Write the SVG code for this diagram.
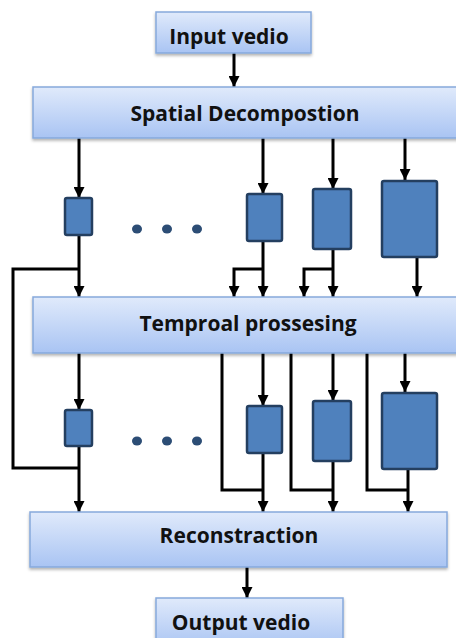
<svg xmlns="http://www.w3.org/2000/svg" width="456" height="638" viewBox="0 0 456 638">
<defs>
<linearGradient id="g" x1="0" y1="0" x2="0" y2="1">
<stop offset="0" stop-color="#e0eafb"/>
<stop offset="1" stop-color="#a9c4f3"/>
</linearGradient>
<filter id="sh" x="-10%" y="-20%" width="120%" height="150%">
<feDropShadow dx="0" dy="2" stdDeviation="1.5" flood-color="#000" flood-opacity="0.3"/>
</filter>
<marker id="ah" viewBox="0 0 10 10" refX="10" refY="5" markerWidth="11" markerHeight="11" markerUnits="userSpaceOnUse" orient="auto">
<path d="M0,0 L10,5 L0,10 z" fill="#000"/>
</marker>
</defs>
<style>
.stage{fill:url(#g);stroke:#86a9dc;stroke-width:1.5;filter:url(#sh)}
.lbl{font-family:"Open Sans","Liberation Sans",sans-serif;font-weight:bold;font-size:21px;fill:#111;text-anchor:middle}
.blk{fill:#4f81bd;stroke:#243f60;stroke-width:2.5}
.dot{fill:#2c4d75}
.c{fill:none;stroke:#000;stroke-width:3}
.a{fill:none;stroke:#000;stroke-width:3;marker-end:url(#ah)}
</style>
<g id="connectors">
<path class="a" d="M234,53 V87"/>
<path class="a" d="M79,138 V198"/>
<path class="a" d="M263,138 V194"/>
<path class="a" d="M333,138 V189"/>
<path class="a" d="M405,138 V180"/>
<path class="a" d="M79,235 V297"/>
<path class="c" d="M79,269 H13 V468 H79"/>
<path class="a" d="M263,241 V297"/>
<path class="a" d="M263,269 H234 V297"/>
<path class="a" d="M333,249 V297"/>
<path class="a" d="M333,269 H304 V297"/>
<path class="a" d="M417,257 V297"/>
<path class="a" d="M79,353 V410"/>
<path class="a" d="M263,353 V406"/>
<path class="a" d="M333,353 V401"/>
<path class="a" d="M405,353 V392"/>
<path class="a" d="M79,446 V512"/>
<path class="a" d="M263,453 V512"/>
<path class="a" d="M333,461 V512"/>
<path class="a" d="M408,469 V512"/>
<path class="c" d="M222,353 V490 H263"/>
<path class="c" d="M291,353 V490 H333"/>
<path class="c" d="M367,353 V490 H408"/>
<path class="a" d="M247,567 V598"/>
</g>
<g id="input"><rect class="stage" x="156" y="12" width="155" height="41"/><text class="lbl" x="229" y="44">Input vedio</text></g>
<g id="spatial"><rect class="stage" x="33" y="87" width="426" height="51"/><text class="lbl" x="245" y="121">Spatial Decompostion</text></g>
<g id="s1"><rect class="blk" x="65" y="198" width="27" height="37" rx="2"/></g>
<g id="s2"><rect class="blk" x="247" y="194" width="35" height="47" rx="2"/></g>
<g id="s3"><rect class="blk" x="313" y="189" width="38" height="60" rx="2"/></g>
<g id="s4"><rect class="blk" x="382" y="181" width="55" height="76" rx="2"/></g>
<g id="dots1"><ellipse class="dot" cx="137" cy="229" rx="5" ry="4.5"/><ellipse class="dot" cx="167" cy="229" rx="5" ry="4.5"/><ellipse class="dot" cx="197" cy="229" rx="5" ry="4.5"/></g>
<g id="temporal"><rect class="stage" x="33" y="297" width="426" height="56"/><text class="lbl" x="248" y="331">Temproal prossesing</text></g>
<g id="t1"><rect class="blk" x="65" y="410" width="27" height="36" rx="2"/></g>
<g id="t2"><rect class="blk" x="247" y="406" width="35" height="47" rx="2"/></g>
<g id="t3"><rect class="blk" x="313" y="401" width="38" height="60" rx="2"/></g>
<g id="t4"><rect class="blk" x="382" y="393" width="55" height="76" rx="2"/></g>
<g id="dots2"><ellipse class="dot" cx="137" cy="441" rx="5" ry="4.5"/><ellipse class="dot" cx="167" cy="441" rx="5" ry="4.5"/><ellipse class="dot" cx="197" cy="441" rx="5" ry="4.5"/></g>
<g id="recon"><rect class="stage" x="30" y="512" width="417" height="55"/><text class="lbl" x="239" y="543">Reconstraction</text></g>
<g id="output"><rect class="stage" x="156" y="598" width="187" height="50"/><text class="lbl" x="241" y="630">Output vedio</text></g>
</svg>
